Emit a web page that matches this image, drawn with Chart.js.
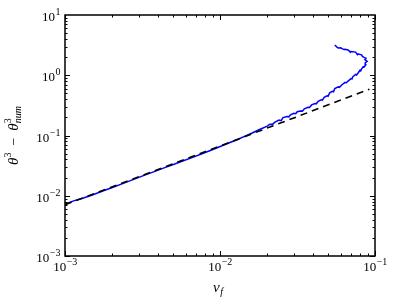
<!DOCTYPE html>
<html>
<head>
<meta charset="utf-8">
<script src="https://cdn.jsdelivr.net/npm/chart.js@4/dist/chart.umd.min.js"></script>
<style>
  html, body { margin: 0; padding: 0; background: #fff; }
  #wrap { width: 399px; height: 305px; }
</style>
</head>
<body>
<div id="wrap"><canvas id="chart" width="399" height="305"></canvas></div>
<script>
// measured curve: v_f against theta^3 - theta^3_num
var vf = [0.00100, 0.00115, 0.00130, 0.00150, 0.00175, 0.00200, 0.00240, 0.00280,
  0.00330, 0.00380, 0.00440, 0.00500, 0.00580, 0.00660, 0.00750, 0.00850,
  0.00950, 0.01050, 0.01160, 0.01300, 0.01450, 0.01600, 0.01800, 0.02000,
  0.02100, 0.02180, 0.02250, 0.02400, 0.02480, 0.02550, 0.02700, 0.02780,
  0.02850, 0.03000, 0.03080, 0.03150, 0.03300, 0.03400, 0.03500, 0.03700,
  0.03780, 0.03900, 0.04100, 0.04180, 0.04300, 0.04500, 0.04580, 0.04700,
  0.04900, 0.04980, 0.05100, 0.05300, 0.05400, 0.05500, 0.05800, 0.05900,
  0.06100, 0.06400, 0.06500, 0.06700, 0.07000, 0.07100, 0.07200, 0.07500,
  0.07600, 0.07800, 0.08000, 0.08100, 0.08200, 0.08400, 0.08500, 0.08700,
  0.08650, 0.08900, 0.08600, 0.08750, 0.08500, 0.08300, 0.08200, 0.07800,
  0.07700, 0.07500, 0.07000, 0.06900, 0.06700, 0.06400, 0.06300, 0.06000,
  0.05800, 0.05700, 0.05600, 0.05500];
var diff = [0.0073, 0.0083, 0.0091, 0.0103, 0.0120, 0.0136, 0.0162, 0.0189,
  0.0222, 0.0254, 0.0293, 0.0330, 0.0380, 0.0430, 0.0488, 0.0552,
  0.0620, 0.0690, 0.0764, 0.0860, 0.0975, 0.1090, 0.1260, 0.1420,
  0.1540, 0.1530, 0.1650, 0.1800, 0.1760, 0.1980, 0.2060, 0.2040,
  0.2200, 0.2330, 0.2300, 0.2480, 0.2560, 0.2540, 0.2780, 0.2950,
  0.2920, 0.3220, 0.3400, 0.3360, 0.3700, 0.3900, 0.3850, 0.4300,
  0.4550, 0.4480, 0.5100, 0.5400, 0.5320, 0.6000, 0.6400, 0.6300,
  0.6900, 0.7600, 0.7450, 0.8000, 0.8800, 0.8650, 0.9500, 1.0300,
  1.0100, 1.1000, 1.2100, 1.1900, 1.2800, 1.3900, 1.3700, 1.4800,
  1.6000, 1.7000, 1.8200, 1.9200, 1.9800, 2.0500, 2.1800, 2.2500,
  2.2000, 2.4200, 2.4800, 2.4500, 2.6200, 2.7000, 2.6700, 2.8500,
  2.8300, 2.9000, 3.0500, 3.1500];

// power-law fit, end points
var fitVf = [0.001, 0.092];
var fitDiff = [0.0071, 0.585];

var xTicks = [0.001, 0.01, 0.1];
var xTickExp = ['\u22123', '\u22122', '\u22121'];
var yTicks = [0.001, 0.01, 0.1, 1, 10];
var yTickExp = ['\u22123', '\u22122', '\u22121', '0', '1'];

var SERIF = '"Liberation Serif", "DejaVu Serif", serif';

function toPoints(xs, ys) {
  return xs.map(function (v, i) { return { x: v, y: ys[i] }; });
}

// draw "10" with a raised exponent; align: 'right' or 'center'
function powLabel(ctx, x, base, exp, align) {
  ctx.font = '13px ' + SERIF;
  var w1 = ctx.measureText('10').width;
  ctx.font = '10px ' + SERIF;
  var w2 = ctx.measureText(exp).width;
  var start = align === 'right' ? x - w1 - w2 : x - (w1 + w2) / 2;
  ctx.textAlign = 'left';
  ctx.textBaseline = 'alphabetic';
  ctx.font = '13px ' + SERIF;
  ctx.fillText('10', start, base);
  ctx.font = '10px ' + SERIF;
  ctx.fillText(exp, start + w1 + 0.5, base - 6);
}

var frame = {
  id: 'frame',
  afterDatasetsDraw: function (chart) {
    var ctx = chart.ctx, a = chart.chartArea;
    var xs = chart.scales.x, ys = chart.scales.y;
    ctx.save();
    ctx.strokeStyle = '#000';
    ctx.fillStyle = '#000';
    ctx.lineWidth = 1;

    // inward ticks on all four sides
    ctx.beginPath();
    for (var d = -3; d <= -1; d++) {
      for (var m = 1; m <= 9; m++) {
        var v = m * Math.pow(10, d);
        var px = Math.round(xs.getPixelForValue(v)) + 0.5;
        var len = m === 1 ? 5 : 2.5;
        ctx.moveTo(px, a.bottom); ctx.lineTo(px, a.bottom - len);
        ctx.moveTo(px, a.top); ctx.lineTo(px, a.top + len);
      }
    }
    for (var d2 = -3; d2 <= 0; d2++) {
      for (var m2 = 1; m2 <= 9; m2++) {
        var v2 = m2 * Math.pow(10, d2);
        var py = Math.round(ys.getPixelForValue(v2)) + 0.5;
        var len2 = m2 === 1 ? 5 : 2.5;
        ctx.moveTo(a.left, py); ctx.lineTo(a.left + len2, py);
        ctx.moveTo(a.right, py); ctx.lineTo(a.right - len2, py);
      }
    }
    ctx.stroke();

    ctx.lineWidth = 1.5;
    ctx.strokeRect(a.left, a.top, a.right - a.left, a.bottom - a.top);

    // tick labels
    xTicks.forEach(function (t, i) {
      powLabel(ctx, xs.getPixelForValue(t), a.bottom + 15, xTickExp[i], 'center');
    });
    yTicks.forEach(function (t, i) {
      powLabel(ctx, a.left - 5, ys.getPixelForValue(t) + 6, yTickExp[i], 'right');
    });

    // x title: v_f
    ctx.textAlign = 'left';
    ctx.font = 'italic 15px ' + SERIF;
    var vw = ctx.measureText('v').width;
    var cx = (a.left + a.right) / 2 - 7;
    ctx.fillText('v', cx, 292);
    ctx.font = 'italic 10px ' + SERIF;
    ctx.fillText('f', cx + vw + 0.5, 295);

    // y title: theta^3 - theta^3_num
    ctx.save();
    ctx.translate(18, (a.top + a.bottom) / 2);
    ctx.rotate(-Math.PI / 2);
    var parts = [
      ['θ', 'italic 15px', 0, true],
      ['3', '10px', -7, true],
      ['  \u2212  ', '14px', 0, true],
      ['θ', 'italic 15px', 0, true],
      ['3', '10px', -7, false],
      ['num', 'italic 10px', 3, true]
    ];
    var total = 0, widths = [];
    parts.forEach(function (p) {
      ctx.font = p[1] + ' ' + SERIF;
      var w = ctx.measureText(p[0]).width;
      widths.push(w);
      if (p[3]) total += w;
    });
    var x0 = -total / 2;
    parts.forEach(function (p, i) {
      ctx.font = p[1] + ' ' + SERIF;
      ctx.fillText(p[0], x0, p[2]);
      if (p[3]) x0 += widths[i];
    });
    ctx.restore();

    ctx.restore();
  }
};

new Chart(document.getElementById('chart'), {
  type: 'scatter',
  data: {
    datasets: [
      {
        label: 'fit',
        data: toPoints(fitVf, fitDiff),
        showLine: true,
        borderColor: '#000',
        borderWidth: 1.6,
        borderDash: [7, 5],
        pointRadius: 0,
        tension: 0
      },
      {
        label: 'data',
        data: toPoints(vf, diff),
        showLine: true,
        borderColor: '#0000ff',
        borderWidth: 1.5,
        pointRadius: 0,
        tension: 0
      }
    ]
  },
  options: {
    responsive: false,
    animation: false,
    events: [],
    layout: { padding: { left: 65, top: 15, right: 24, bottom: 49 } },
    plugins: { legend: { display: false }, tooltip: { enabled: false } },
    scales: {
      x: { type: 'logarithmic', min: 0.001, max: 0.1, display: false },
      y: { type: 'logarithmic', min: 0.001, max: 10, display: false }
    }
  },
  plugins: [frame]
});
</script>
</body>
</html>
